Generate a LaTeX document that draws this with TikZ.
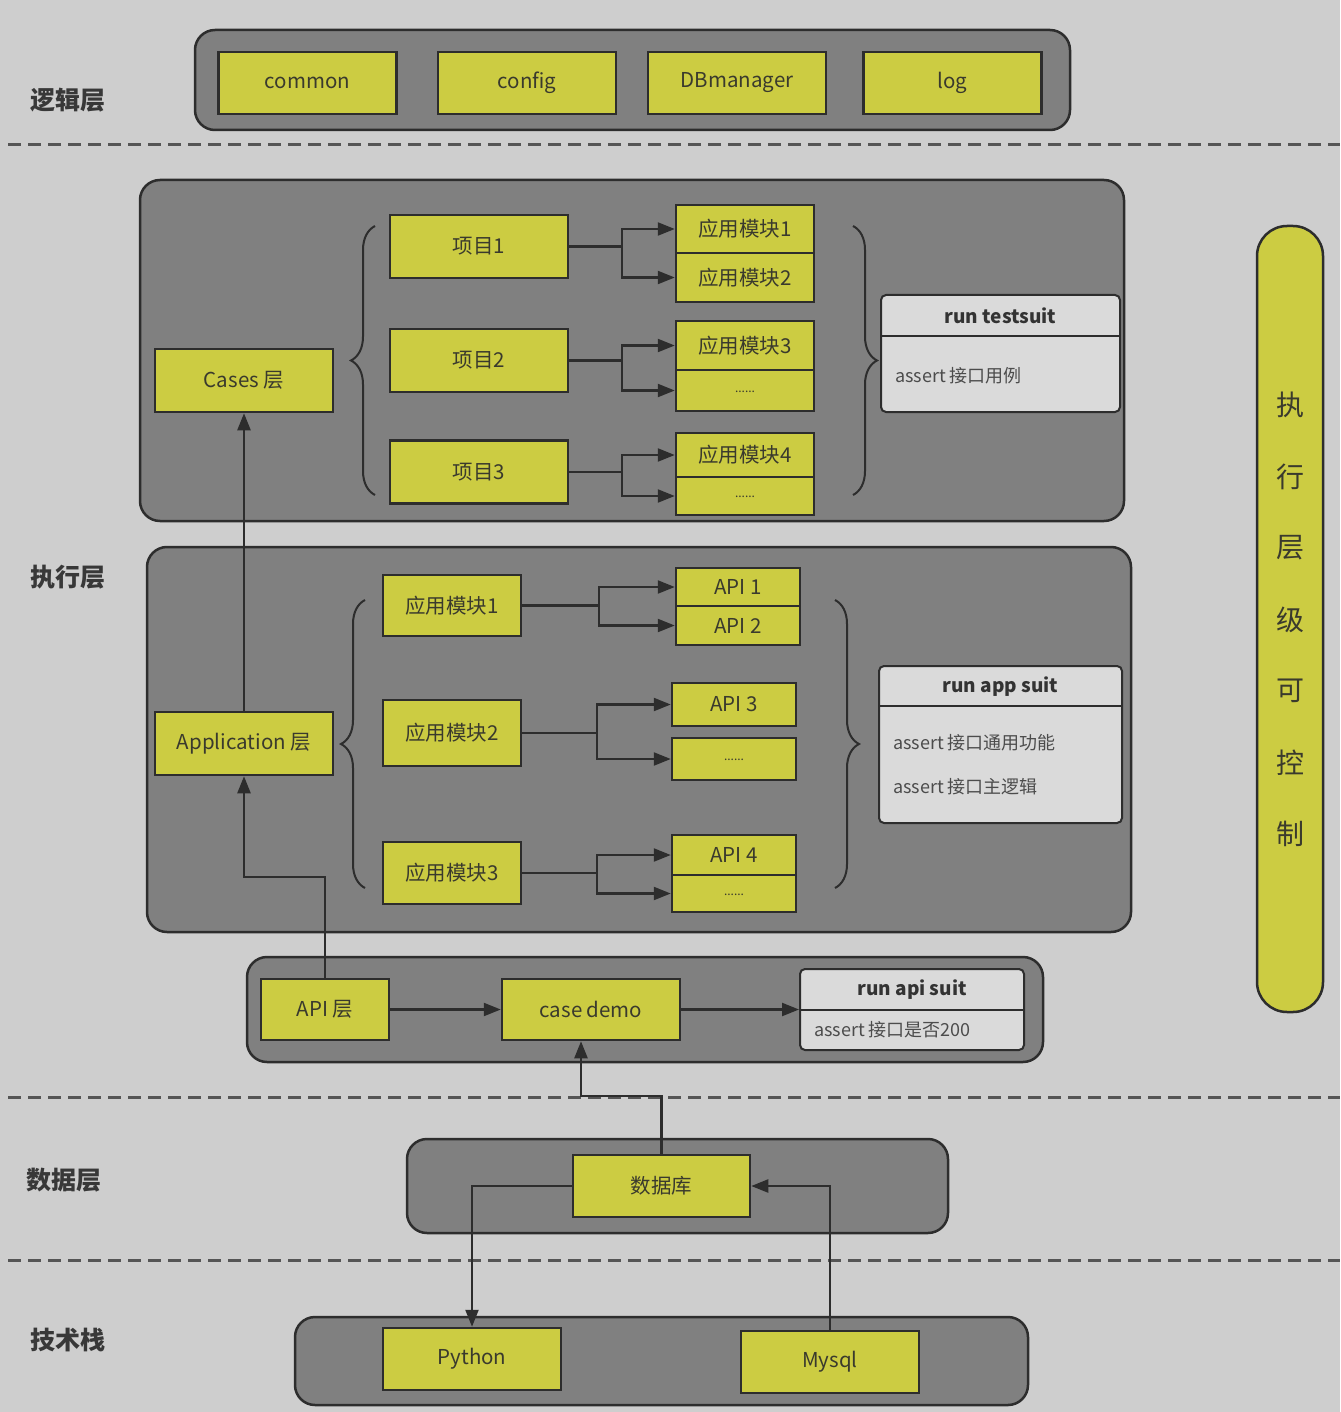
\documentclass[tikz,border=0pt]{standalone}
\usepackage{fontspec}
\setmainfont{Noto Sans CJK SC}
\usetikzlibrary{arrows.meta,decorations.pathreplacing,calc}
\definecolor{bgc}{RGB}{206,206,206}
\definecolor{panelc}{RGB}{128,128,128}
\definecolor{yelc}{RGB}{204,204,66}
\definecolor{lightc}{RGB}{218,218,218}
\definecolor{linec}{RGB}{45,45,45}
\definecolor{txtc}{RGB}{58,58,45}
\definecolor{dashc}{RGB}{85,85,85}
\tikzset{
  panel/.style={draw=linec, line width=2.5pt, fill=panelc, rounded corners=20pt, inner sep=0pt},
  ybox/.style={draw=linec, line width=2.5pt, fill=yelc, inner sep=0pt, text=txtc, font=\fontsize{20.5pt}{22pt}\selectfont},
  runbox/.style={draw=linec, line width=2pt, fill=lightc, rounded corners=5pt, inner sep=0pt},
  runtitle/.style={text=black!80, font=\fontsize{19pt}{21pt}\selectfont\bfseries, inner sep=0pt},
  runtext/.style={text=black!70, font=\fontsize{18pt}{20pt}\selectfont, inner sep=0pt, anchor=west},
  layerlbl/.style={text=black!78, font=\fontsize{25pt}{27pt}\selectfont\bfseries, inner sep=0pt},
  sep/.style={draw=dashc, line width=3pt, dash pattern=on 13pt off 7pt},
  conn/.style={draw=linec, line width=2.3pt},
  arr/.style={conn, -{Triangle[length=17pt,width=13pt]}},
  bracestyle/.style={draw=linec, line width=2pt, decorate, decoration={brace, amplitude=24pt}},
}
\begin{document}
\begin{tikzpicture}[x=1pt,y=-1pt]
\useasboundingbox (0,0) rectangle (1340,1412);
\fill[bgc] (0,0) rectangle (1340,1412);

% separators
\draw[sep] (8,145) -- (1340,145);
\draw[sep] (8,1097) -- (1340,1097);
\draw[sep] (8,1260) -- (1340,1260);

% layer labels
\node[layerlbl] (l1) at (68,100) {逻辑层};
\node[layerlbl] (l2) at (68,577) {执行层};
\node[layerlbl] (l3) at (64,1180) {数据层};
\node[layerlbl] (l4) at (68,1340) {技术栈};

% ---- logic layer
\node[panel, minimum width=875pt, minimum height=100pt] (ptop) at (632.5,80) {};
\node[ybox, minimum width=178pt, minimum height=62pt] (common) at (307.5,83) {common};
\node[ybox, minimum width=178pt, minimum height=62pt] (config) at (527,83) {config};
\node[ybox, minimum width=178pt, minimum height=62pt] (dbm) at (737,83) {DBmanager};
\node[ybox, minimum width=178pt, minimum height=62pt] (log) at (952.5,83) {log};

% ---- cases panel
\node[panel, minimum width=984pt, minimum height=341pt] (pcases) at (632,350.5) {};
\node[ybox, minimum width=178pt, minimum height=63pt] (cases) at (244,380.5) {Cases 层};
\node[ybox, minimum width=178pt, minimum height=63pt] (p1) at (479,246.5) {项目1};
\node[ybox, minimum width=178pt, minimum height=63pt] (p2) at (479,360.5) {项目2};
\node[ybox, minimum width=178pt, minimum height=63pt] (p3) at (479,472) {项目3};
\node[ybox, minimum width=138pt, minimum height=48pt] (m1) at (745,229) {应用模块1};
\node[ybox, minimum width=138pt, minimum height=49pt] (m2) at (745,277.5) {应用模块2};
\node[ybox, minimum width=138pt, minimum height=49pt] (m3) at (745,345.5) {应用模块3};
\node[ybox, minimum width=138pt, minimum height=41pt] (d1) at (745,390.5) {\raisebox{-4pt}{\fontsize{12pt}{12pt}\selectfont ......}};
\node[ybox, minimum width=138pt, minimum height=44pt] (m4) at (745,455) {应用模块4};
\node[ybox, minimum width=138pt, minimum height=38pt] (d2) at (745,496) {\raisebox{-4pt}{\fontsize{12pt}{12pt}\selectfont ......}};

\draw[arr] (p1.east) -- ++(53,0) |- (m1.west);
\draw[arr] (p1.east) -- ++(53,0) |- (m2.west);
\draw[arr] (p2.east) -- ++(53,0) |- (m3.west);
\draw[arr] (p2.east) -- ++(53,0) |- (d1.west);
\draw[arr] (p3.east) -- ++(53,0) |- (m4.west);
\draw[arr] (p3.east) -- ++(53,0) |- (d2.west);

\coordinate (cbl1) at (375,495);
\coordinate (cbl2) at (375,226);
\draw[bracestyle] (cbl1) -- (cbl2);
\coordinate (cbr1) at (853,226);
\coordinate (cbr2) at (853,495);
\draw[bracestyle] (cbr1) -- (cbr2);

\node[runbox, minimum width=239pt, minimum height=117pt] (rts) at (1000.5,353.5) {};
\draw[draw=linec, line width=2pt] (rts.west |- 0,336) -- (rts.east |- 0,336);
\node[runtitle] (rtsh) at (1000.5,315.5) {run testsuit};
\node[runtext] (rtsb) at (895,376) {assert 接口用例};

% ---- application panel
\node[panel, minimum width=984pt, minimum height=385pt] (papp) at (639,739.5) {};
\node[ybox, minimum width=178pt, minimum height=63pt] (app) at (244,743.5) {Application 层};
\node[ybox, minimum width=138pt, minimum height=61pt] (am1) at (452,605.5) {应用模块1};
\node[ybox, minimum width=138pt, minimum height=66pt] (am2) at (452,733) {应用模块2};
\node[ybox, minimum width=138pt, minimum height=62pt] (am3) at (452,873) {应用模块3};
\node[ybox, minimum width=124pt, minimum height=38pt] (a1) at (738,587) {API 1};
\node[ybox, minimum width=124pt, minimum height=39pt] (a2) at (738,625.5) {API 2};
\node[ybox, minimum width=124pt, minimum height=43pt] (a3) at (734,704.5) {API 3};
\node[ybox, minimum width=124pt, minimum height=42pt] (d3) at (734,759) {\raisebox{-4pt}{\fontsize{12pt}{12pt}\selectfont ......}};
\node[ybox, minimum width=124pt, minimum height=40pt] (a4) at (734,855) {API 4};
\node[ybox, minimum width=124pt, minimum height=37pt] (d4) at (734,893.5) {\raisebox{-4pt}{\fontsize{12pt}{12pt}\selectfont ......}};

\draw[arr] (am1.east) -- ++(77,0) |- (a1.west);
\draw[arr] (am1.east) -- ++(77,0) |- (a2.west);
\draw[arr] (am2.east) -- ++(75,0) |- (a3.west);
\draw[arr] (am2.east) -- ++(75,0) |- (d3.west);
\draw[arr] (am3.east) -- ++(75,0) |- (a4.west);
\draw[arr] (am3.east) -- ++(75,0) |- (d4.west);

\coordinate (abl1) at (365,888);
\coordinate (abl2) at (365,600);
\draw[bracestyle] (abl1) -- (abl2);
\coordinate (abr1) at (835,600);
\coordinate (abr2) at (835,888);
\draw[bracestyle] (abr1) -- (abr2);

\node[runbox, minimum width=243pt, minimum height=157pt] (ras) at (1000.5,744.5) {};
\draw[draw=linec, line width=2pt] (ras.west |- 0,706) -- (ras.east |- 0,706);
\node[runtitle] (rash) at (1000.5,686.5) {run app suit};
\node[runtext] (rasb1) at (893,743) {assert 接口通用功能};
\node[runtext] (rasb2) at (893,787) {assert 接口主逻辑};

% ---- API panel
\node[panel, minimum width=796pt, minimum height=105pt] (papi) at (645,1009.5) {};
\node[ybox, minimum width=128pt, minimum height=61pt] (apil) at (325,1009.5) {API 层};
\node[ybox, minimum width=178pt, minimum height=61pt] (cd) at (591,1009.5) {case demo};
\node[runbox, minimum width=224pt, minimum height=81pt] (rapi) at (912,1009.5) {};
\draw[draw=linec, line width=2pt] (rapi.west |- 0,1010) -- (rapi.east |- 0,1010);
\node[runtitle] (rapih) at (912,989.5) {run api suit};
\node[runtext] (rapib) at (814,1030) {assert 接口是否200};

\draw[arr] (apil.east) -- (cd.west);
\draw[arr] (cd.east) -- (rapi.west);

% vertical links
\draw[arr] (app.north) -- (cases.south);
\draw[arr] (apil.north) -- ++(0,-101) -| (app.south);

% ---- data panel
\node[panel, minimum width=541pt, minimum height=94pt] (pdata) at (677.5,1186) {};
\node[ybox, minimum width=177pt, minimum height=62pt] (db) at (661.5,1186) {数据库};

% ---- tech panel
\node[panel, minimum width=733pt, minimum height=88pt] (ptech) at (661.5,1361) {};
\node[ybox, minimum width=178pt, minimum height=62pt] (py) at (472,1359) {Python};
\node[ybox, minimum width=178pt, minimum height=62pt] (my) at (830,1362) {Mysql};

\draw[arr] (db.north) -- ++(0,-58) -| ([xshift=-10pt]cd.south);
\draw[arr] (db.west) -| (py.north);
\draw[arr] (my.north) |- (db.east);

% ---- right pill
\node[draw=linec, line width=2.5pt, fill=yelc, rounded corners=30pt, minimum width=66pt, minimum height=786pt, inner sep=0pt] (pill) at (1290,619) {};
\foreach \ch/\yy [count=\i] in {执/405,行/477,层/548,级/620,可/691,控/763,制/834}{
  \node[text=txtc, font=\fontsize{28pt}{30pt}\selectfont, inner sep=0pt] (pc\i) at (1290,\yy) {\ch};
}
\end{tikzpicture}
\end{document}
